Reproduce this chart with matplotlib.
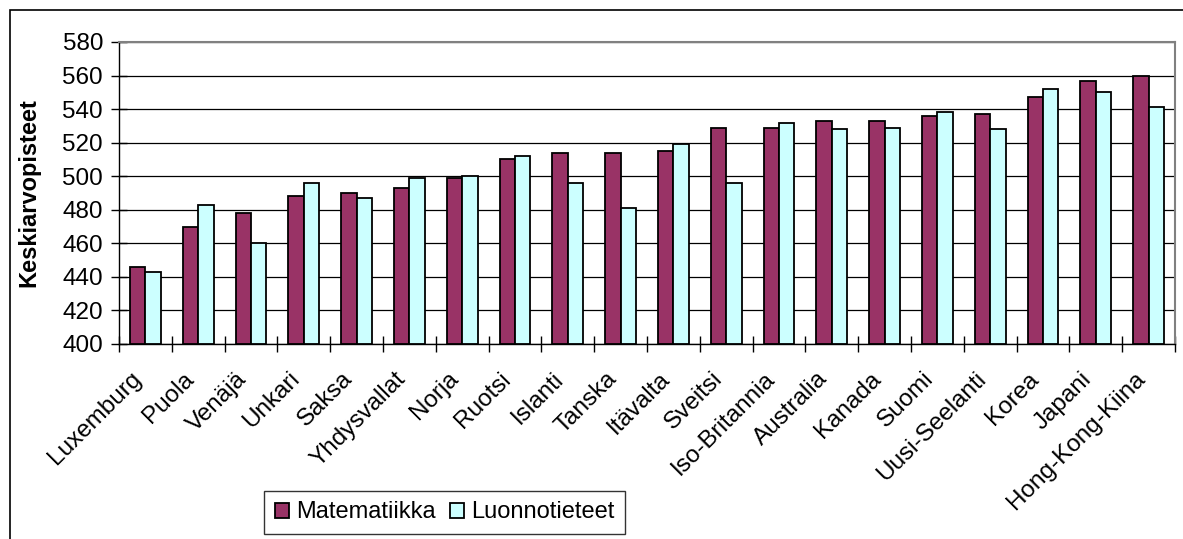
import numpy as np
import matplotlib.pyplot as plt
from matplotlib.patches import Rectangle
from matplotlib.transforms import ScaledTranslation

plt.rcParams['font.family'] = ['Liberation Sans', 'DejaVu Sans']

maat = ["Luxemburg", "Puola", "Venäjä", "Unkari", "Saksa", "Yhdysvallat", "Norja",
        "Ruotsi", "Islanti", "Tanska", "Itävalta", "Sveitsi", "Iso-Britannia",
        "Australia", "Kanada", "Suomi", "Uusi-Seelanti", "Korea", "Japani",
        "Hong-Kong-Kiina"]
matematiikka = [446, 470, 478, 488, 490, 493, 499, 510, 514, 514, 515, 529, 529,
                533, 533, 536, 537, 547, 557, 560]
luonnontieteet = [443, 483, 460, 496, 487, 499, 500, 512, 496, 481, 519, 496, 532,
                  528, 529, 538, 528, 552, 550, 541]

fig = plt.figure(figsize=(11.83, 5.39), dpi=100)
ax = fig.add_axes([119 / 1183, 1 - 344 / 539, (1175 - 119) / 1183, (344 - 42) / 539])

x = np.arange(len(maat))
w = 0.29
ax.bar(x - w / 2, np.array(matematiikka) - 400, w, bottom=400, color="#993366",
       edgecolor="black", linewidth=1.3, label="Matematiikka", zorder=3)
ax.bar(x + w / 2, np.array(luonnontieteet) - 400, w, bottom=400, color="#CCFFFF",
       edgecolor="black", linewidth=1.3, label="Luonnotieteet", zorder=3)

ax.set_xlim(-0.5, len(maat) - 0.5)
ax.set_ylim(400, 580)
ax.set_yticks(range(400, 581, 20))
ax.yaxis.grid(True, color="black", linewidth=0.9, zorder=0)

ax.set_xticks(x)
ax.set_xticks(np.arange(-0.5, len(maat), 1), minor=True)
ax.tick_params(axis="x", which="major", length=0, pad=10)
ax.tick_params(axis="x", which="minor", direction="inout", length=11, width=1)
ax.tick_params(axis="y", direction="inout", length=11, width=1, labelsize=17.5, pad=6)
ax.set_xticklabels(maat, rotation=45, ha="right", rotation_mode="anchor", fontsize=17.5)
# siirretään nimiä vähän vasemmalle ja alas
siirto = ScaledTranslation(-0.15, -0.10, fig.dpi_scale_trans)
for lbl in ax.get_xticklabels():
    lbl.set_transform(lbl.get_transform() + siirto)

ax.set_ylabel("Keskiarvopisteet", fontsize=17, fontweight="bold", labelpad=16)

ax.spines["top"].set_color("#808080")
ax.spines["right"].set_color("#808080")
ax.spines["top"].set_linewidth(1.5)
ax.spines["right"].set_linewidth(1.5)
ax.spines["left"].set_linewidth(1)
ax.spines["bottom"].set_linewidth(1)

leg = fig.legend(loc="lower left", bbox_to_anchor=(264 / 1183, 1 - 534 / 539),
                 ncol=2, fontsize=17, fancybox=False, frameon=True, edgecolor="black",
                 handlelength=0.6, handleheight=0.6, handletextpad=0.3,
                 columnspacing=0.6, borderpad=0.45, borderaxespad=0)
leg.get_frame().set_linewidth(1)

fig.patches.append(Rectangle((10 / 1183, -0.05), 1.1, 1 - 10 / 539 + 0.05,
                             transform=fig.transFigure, fill=False,
                             edgecolor="black", linewidth=1.2))

fig.savefig("out.png", dpi=100)
